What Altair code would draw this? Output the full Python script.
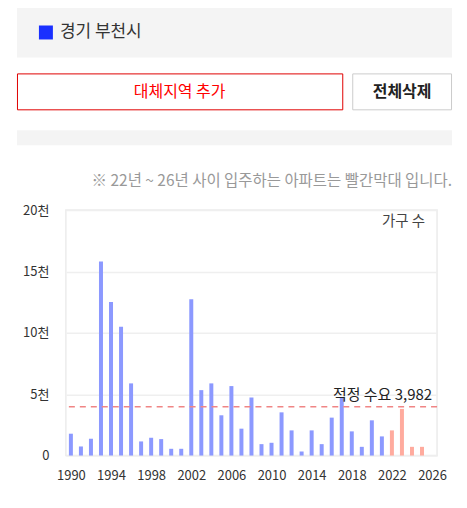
import altair as alt
import pandas as pd

FONT = "Noto Sans CJK KR"

years = list(range(1990, 2026))
values = [1780, 740, 1370, 15820, 12520, 10490, 5880, 1150, 1450, 1340,
          550, 550, 12730, 5330, 5880, 3280, 5660, 2190, 4730, 930,
          1040, 3520, 2050, 330, 2050, 930, 3090, 4730, 1970, 710,
          2870, 1560, 2050, 3800, 710, 710]
groups = ["past" if y < 2022 else "new" for y in years]

demand = 3982
y_ticks = [0, 5000, 10000, 15000, 20000]
x_ticks = [1990, 1994, 1998, 2002, 2006, 2010, 2014, 2018, 2022, 2026]

region_label = "경기 부천시"
btn_add = "대체지역 추가"
btn_del = "전체삭제"
note = "※ 22년 ~ 26년 사이 입주하는 아파트는 빨간막대 입니다."
unit_label = "가구 수"
demand_label = "적정 수요 3,982"

df = pd.DataFrame({"year": years, "value": values, "group": groups})
one = pd.DataFrame({"k": [0]})

W, H = 372, 246

x = alt.X("year:Q", scale=alt.Scale(domain=[1989.5, 2026.5], nice=False, zero=False, padding=0),
          axis=alt.Axis(values=x_ticks, format="d", title=None, grid=False, ticks=False,
                        domain=False, labelPadding=14, labelFontSize=13, labelColor="#333",
                        labelFont=FONT))
y = alt.Y("value:Q", scale=alt.Scale(domain=[0, 20000], nice=False, padding=0),
          axis=alt.Axis(values=y_ticks, title=None, ticks=False, domain=False,
                        labelExpr="datum.value == 0 ? '0' : (datum.value/1000) + '천'",
                        labelPadding=17, labelFontSize=13, labelColor="#333",
                        labelFont=FONT, gridColor="#efefef", gridWidth=1.5))

bars = alt.Chart(df).mark_bar(size=4, strokeWidth=0).encode(
    x=x, y=y,
    color=alt.Color("group:N", scale=alt.Scale(domain=["past", "new"],
                                               range=["#8c99ff", "#ffab9e"]), legend=None),
)

rule = alt.Chart(one).mark_rule(color="#f08585", strokeDash=[6, 5], strokeWidth=1.5).encode(
    y=alt.datum(demand)
)
rule_text = alt.Chart(one).mark_text(align="right", baseline="alphabetic", dy=-7,
                                     fontSize=15, font=FONT, color="#222").encode(
    y=alt.datum(demand), x=alt.value(367), text=alt.value(demand_label)
)
unit_text = alt.Chart(one).mark_text(align="right", baseline="middle", fontSize=14.5,
                                     font=FONT, color="#444").encode(
    x=alt.value(360), y=alt.value(12), text=alt.value(unit_label)
)

# page decorations (positions relative to plot origin)
def rect(x1, x2, y1, y2, fill, stroke=None):
    kw = dict(fill=fill)
    if stroke:
        kw.update(stroke=stroke, strokeWidth=1)
    else:
        kw.update(strokeWidth=0)
    return alt.Chart(one).mark_rect(**kw).encode(
        x=alt.value(x1), x2=alt.value(x2), y=alt.value(y1), y2=alt.value(y2))

def text(xv, yv, t, size, color, align="left", weight="normal"):
    return alt.Chart(one).mark_text(align=align, baseline="middle", fontSize=size,
                                    font=FONT, color=color, fontWeight=weight).encode(
        x=alt.value(xv), y=alt.value(yv), text=alt.value(t))

deco = [
    rect(-49, 387, -206, -153, "#f4f4f4"),
    rect(-27, -13, -185, -171, "#1a30ff"),
    text(-6, -178, region_label, 17, "#333"),
    rect(-48.5, 277.5, -136.5, -100.5, "#ffffff", "#e00000"),
    text(114, -118, btn_add, 16, "#ff0000", align="center"),
    rect(287.5, 386.5, -136.5, -100.5, "#ffffff", "#cccccc"),
    text(337, -118, btn_del, 16, "#222", align="center", weight="bold"),
    rect(-49, 387, -80, -65, "#f4f4f4"),
    text(387, -29, note, 15.5, "#999", align="right"),
]

chart = alt.layer(*deco, bars, rule, rule_text, unit_text).properties(
    width=W, height=H,
    autosize=alt.AutoSizeParams(type="none"),
    padding={"left": 58, "top": 202, "right": 22, "bottom": 40},
).configure_view(stroke="#ececec", strokeWidth=1.5)

chart.save("out.html", embed_options={"renderer": "svg", "actions": False})
